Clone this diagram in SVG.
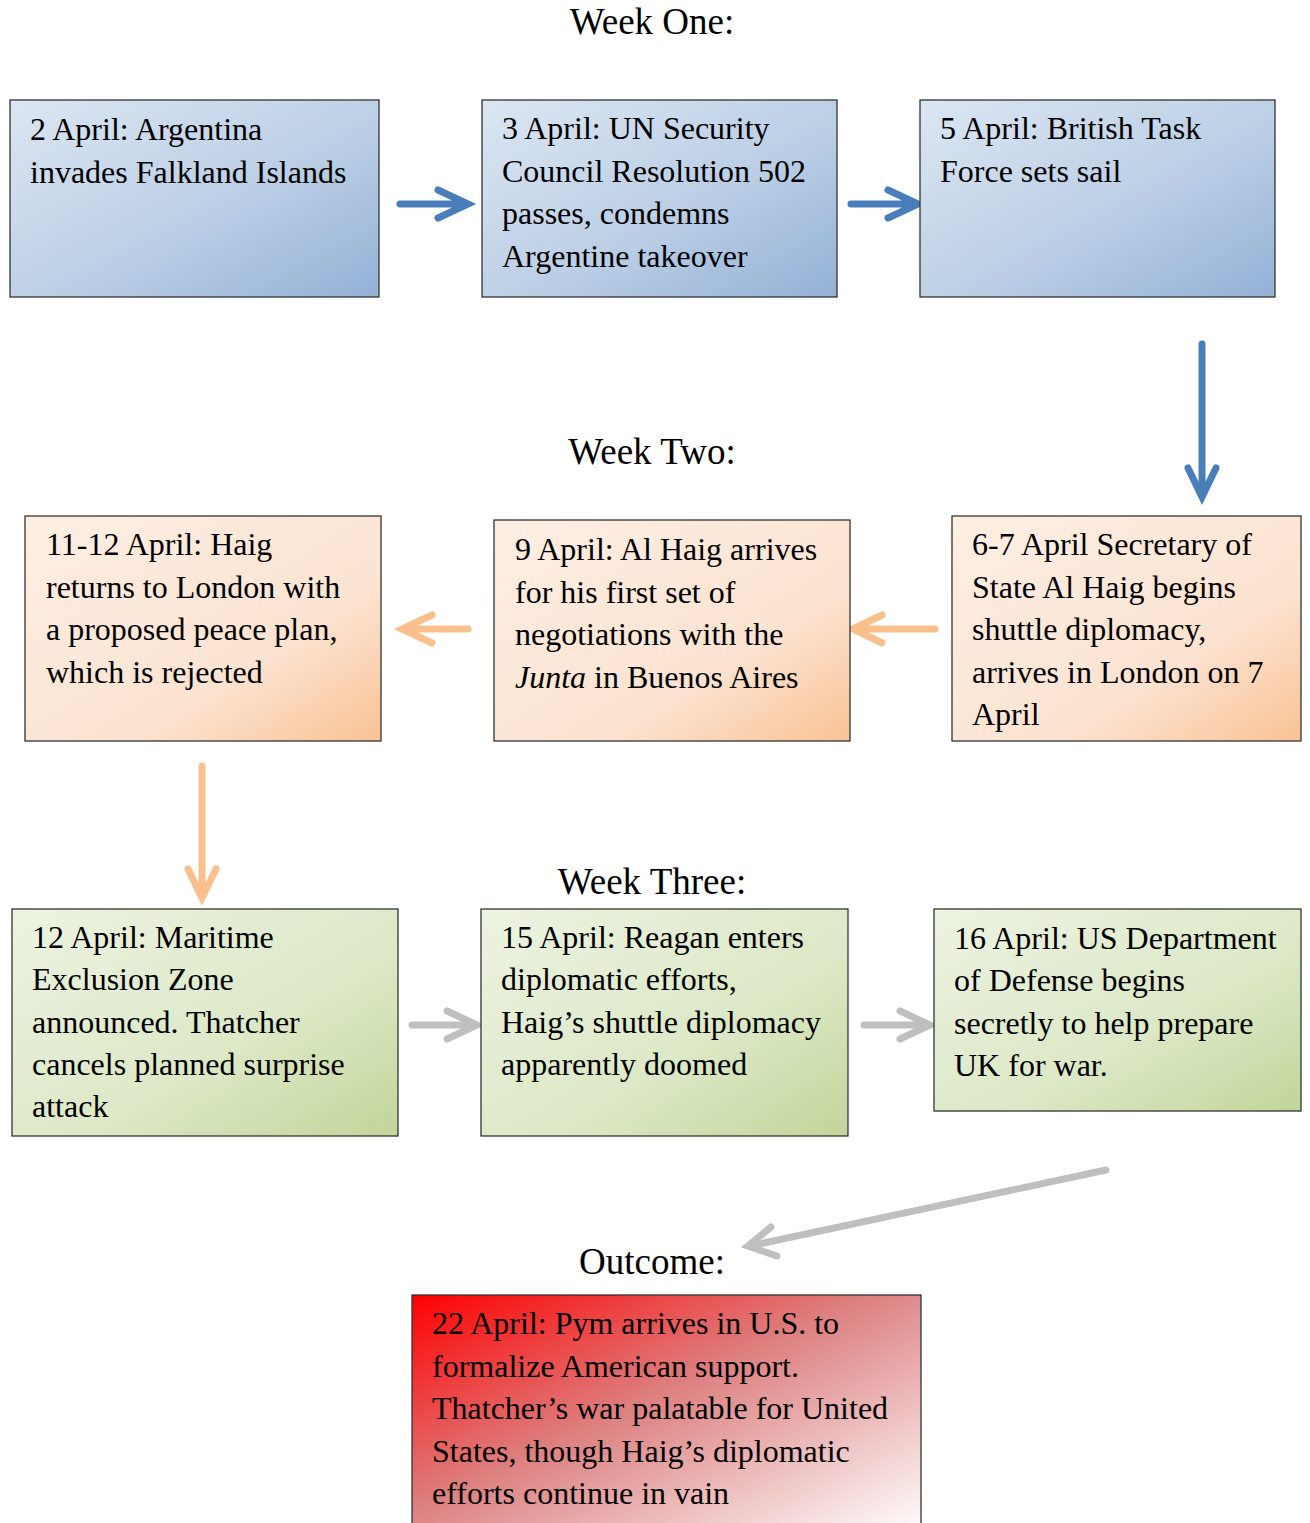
<svg xmlns="http://www.w3.org/2000/svg" width="1310" height="1523" viewBox="0 0 1310 1523">
<style>
.t{font-family:"Liberation Serif","Times New Roman",serif;font-size:32px;fill:#000}
.h{font-family:"Liberation Serif","Times New Roman",serif;font-size:37px;fill:#000;text-anchor:middle}
.box{stroke:#333;stroke-width:1.3}
.blue{fill:url(#gb)}
.orange{fill:url(#go)}
.green{fill:url(#gg)}
.red{fill:url(#gr)}
.c{fill:none;stroke-width:7;stroke-linecap:round;stroke-linejoin:miter}
.cb{stroke:#4a7ebb}
.co{stroke:#f9bf8c}
.cg{stroke:#bfbfbf}
</style>
<defs>
<linearGradient id="gb" x1="0" y1="0" x2="1" y2="1"><stop offset="0" stop-color="#dce6f2"/><stop offset="0.55" stop-color="#bccfe6"/><stop offset="1" stop-color="#93b1d6"/></linearGradient>
<linearGradient id="go" x1="0" y1="0" x2="1" y2="1"><stop offset="0" stop-color="#fdefe4"/><stop offset="0.65" stop-color="#fce3d1"/><stop offset="1" stop-color="#f9c294"/></linearGradient>
<linearGradient id="gg" x1="0" y1="0" x2="1" y2="1"><stop offset="0" stop-color="#edf3e2"/><stop offset="0.6" stop-color="#dce8c6"/><stop offset="1" stop-color="#c2d59a"/></linearGradient>
<linearGradient id="gr" x1="0" y1="0" x2="1" y2="1"><stop offset="0" stop-color="#ff0000"/><stop offset="0.45" stop-color="#dd8080"/><stop offset="1" stop-color="#ffffff"/></linearGradient>
</defs>

<text class="h" x="652" y="34">Week One:</text>
<text class="h" x="652" y="464">Week Two:</text>
<text class="h" x="652" y="894">Week Three:</text>
<text class="h" x="652" y="1274">Outcome:</text>

<g id="connectors">
<path class="c cb" d="M400 204H466M438 190L468 204L438 218"/>
<path class="c cb" d="M851 204H916M888 190L918 204L888 218"/>
<path class="c cb" d="M1202 344V494M1188 468L1202 497L1216 468"/>
<path class="c co" d="M935 629H855M882 615L853 629L882 643"/>
<path class="c co" d="M468 629H404M432 615L402 629L432 643"/>
<path class="c co" d="M202 766V895M188 869L202 898L216 869"/>
<path class="c cg" d="M412 1025H475M447 1011L477 1025L447 1039"/>
<path class="c cg" d="M864 1025H928M900 1011L930 1025L900 1039"/>
<path class="c cg" d="M1106 1170L750 1246M771 1227L748 1246L777 1256"/>
</g>

<g id="n1"><rect class="box blue" x="10" y="100" width="369" height="197"/>
<text class="t" x="30" y="140">2 April: Argentina</text>
<text class="t" x="30" y="182.5">invades Falkland Islands</text></g>

<g id="n2"><rect class="box blue" x="482" y="100" width="355" height="197"/>
<text class="t" x="502" y="139">3 April: UN Security</text>
<text class="t" x="502" y="181.5">Council Resolution 502</text>
<text class="t" x="502" y="224">passes, condemns</text>
<text class="t" x="502" y="266.5">Argentine takeover</text></g>

<g id="n3"><rect class="box blue" x="920" y="100" width="355" height="197"/>
<text class="t" x="940" y="139">5 April: British Task</text>
<text class="t" x="940" y="181.5">Force sets sail</text></g>

<g id="n4"><rect class="box orange" x="25" y="516" width="356" height="225"/>
<text class="t" x="46" y="555">11-12 April: Haig</text>
<text class="t" x="46" y="597.5">returns to London with</text>
<text class="t" x="46" y="640">a proposed peace plan,</text>
<text class="t" x="46" y="682.5">which is rejected</text></g>

<g id="n5"><rect class="box orange" x="494" y="520" width="356" height="221"/>
<text class="t" x="515" y="560">9 April: Al Haig arrives</text>
<text class="t" x="515" y="602.5">for his first set of</text>
<text class="t" x="515" y="645">negotiations with the</text>
<text class="t" x="515" y="687.5"><tspan font-style="italic">Junta</tspan> in Buenos Aires</text></g>

<g id="n6"><rect class="box orange" x="952" y="516" width="349" height="225"/>
<text class="t" x="972" y="555">6-7 April Secretary of</text>
<text class="t" x="972" y="597.5">State Al Haig begins</text>
<text class="t" x="972" y="640">shuttle diplomacy,</text>
<text class="t" x="972" y="682.5">arrives in London on 7</text>
<text class="t" x="972" y="725">April</text></g>

<g id="n7"><rect class="box green" x="12" y="909" width="386" height="227"/>
<text class="t" x="32" y="948">12 April: Maritime</text>
<text class="t" x="32" y="990">Exclusion Zone</text>
<text class="t" x="32" y="1032.5">announced. Thatcher</text>
<text class="t" x="32" y="1075">cancels planned surprise</text>
<text class="t" x="32" y="1117">attack</text></g>

<g id="n8"><rect class="box green" x="481" y="909" width="367" height="227"/>
<text class="t" x="501" y="948">15 April: Reagan enters</text>
<text class="t" x="501" y="990">diplomatic efforts,</text>
<text class="t" x="501" y="1032.5">Haig’s shuttle diplomacy</text>
<text class="t" x="501" y="1075">apparently doomed</text></g>

<g id="n9"><rect class="box green" x="934" y="909" width="367" height="202"/>
<text class="t" x="954" y="949">16 April: US Department</text>
<text class="t" x="954" y="991">of Defense begins</text>
<text class="t" x="954" y="1033.5">secretly to help prepare</text>
<text class="t" x="954" y="1076">UK for war.</text></g>

<g id="n10"><rect class="box red" x="412" y="1295" width="509" height="240"/>
<text class="t" x="432" y="1334">22 April: Pym arrives in U.S. to</text>
<text class="t" x="432" y="1376.5">formalize American support.</text>
<text class="t" x="432" y="1419">Thatcher’s war palatable for United</text>
<text class="t" x="432" y="1461.5">States, though Haig’s diplomatic</text>
<text class="t" x="432" y="1504">efforts continue in vain</text></g>
</svg>
